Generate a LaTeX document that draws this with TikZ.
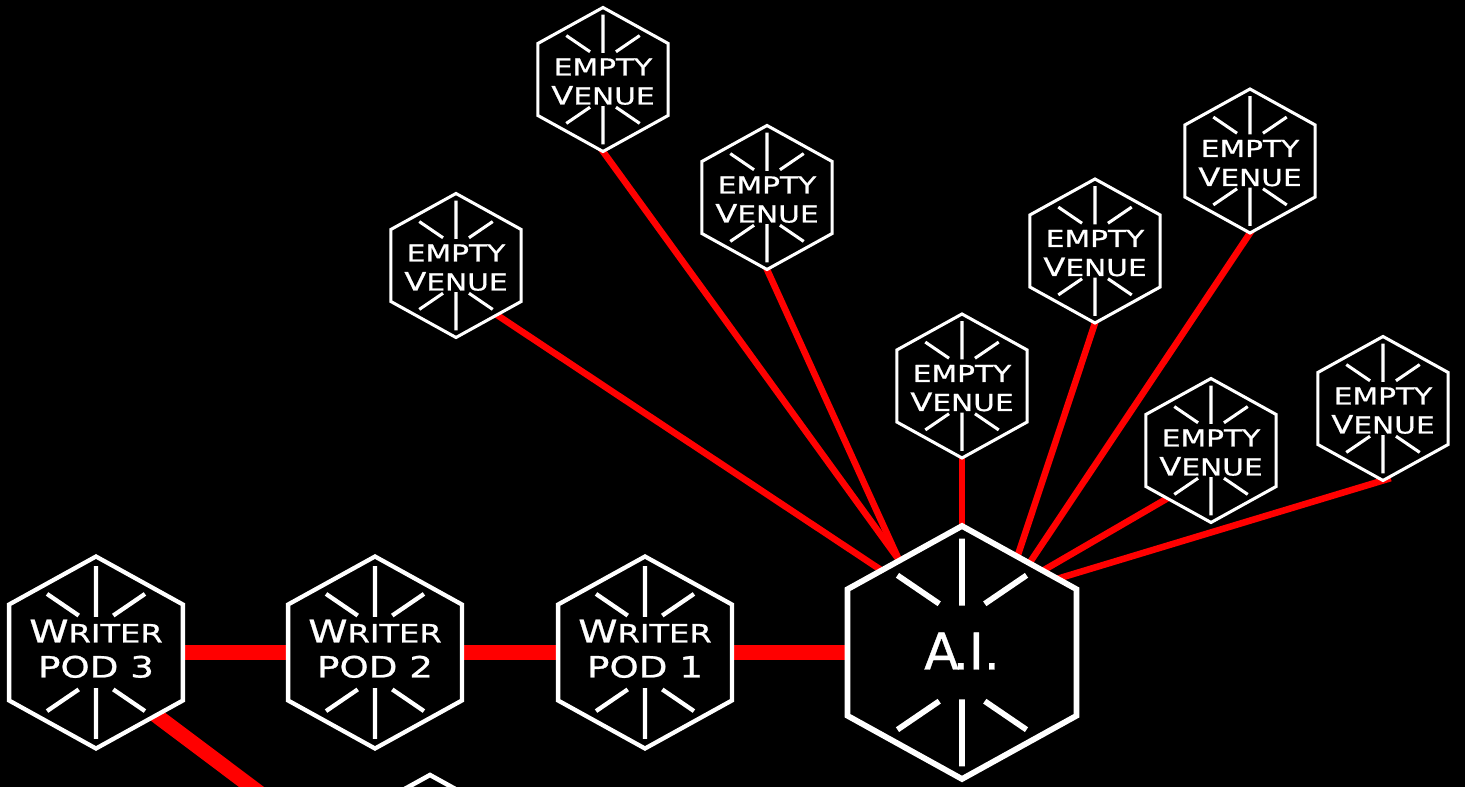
\documentclass[tikz,border=0pt]{standalone}
\usepackage{fontspec}
\newfontfamily\hexfont[FakeStretch=1.27,FakeBold=0.8]{DejaVu Sans}
\newfontfamily\aifont[FakeBold=0.8]{DejaVu Sans}
\usetikzlibrary{calc}
\newcommand\venueV{{\fontsize{19pt}{21pt}\selectfont V}}
\newcommand\writerW{{\fontsize{23.5pt}{24pt}\selectfont W}}
\tikzset{
  pics/hexbox/.style n args={2}{code={
    \pgfmathsetmacro\hexw{0.905*#1}
    \draw[white,line width=#2,fill=black]
      (0,-#1) -- (\hexw,-0.5*#1) -- (\hexw,0.5*#1) -- (0,#1)
      -- (-\hexw,0.5*#1) -- (-\hexw,-0.5*#1) -- cycle;
    \draw[white,line width=#2]
      (0,-0.9*#1) -- (0,-0.37*#1)
      (-0.51*#1,-0.61*#1) -- (-0.18*#1,-0.385*#1)
      (0.51*#1,-0.61*#1) -- (0.18*#1,-0.385*#1)
      (0,0.9*#1) -- (0,0.37*#1)
      (-0.51*#1,0.61*#1) -- (-0.18*#1,0.385*#1)
      (0.51*#1,0.61*#1) -- (0.18*#1,0.385*#1);
  }},
  link/.style={draw=red,line width=4.9pt},
  podlink/.style={draw=red,line width=11.25pt},
  vtxt/.style={text=white,inner sep=0pt,anchor=base,font=\hexfont\fontsize{17.5pt}{21pt}\selectfont},
  wtxt/.style={text=white,inner sep=0pt,anchor=base,font=\hexfont\fontsize{19pt}{22pt}\selectfont},
  ptxt/.style={text=white,inner sep=0pt,anchor=base,font=\hexfont\fontsize{22pt}{24pt}\selectfont},
  aitxt/.style={text=white,inner sep=0pt,anchor=base,font=\aifont\fontsize{38pt}{40pt}\selectfont},
}
\begin{document}
\begin{tikzpicture}[x=0.75pt,y=-0.75pt]
\fill[black] (0,0) rectangle (1465,787);
\useasboundingbox (0,0) rectangle (1465,787);
\clip (0,0) rectangle (1465,787);

% hexagon centres
\coordinate (v1) at (603,79.5);
\coordinate (v2) at (767,197.5);
\coordinate (v3) at (456,265.5);
\coordinate (v4) at (962,386);
\coordinate (v5) at (1095,251);
\coordinate (v6) at (1250,161);
\coordinate (v7) at (1211,450.5);
\coordinate (v8) at (1383,408.5);
\coordinate (w3) at (96,652.5);
\coordinate (w2) at (375,652.5);
\coordinate (w1) at (645,652.5);
\coordinate (ai) at (962,652.5);
\coordinate (px) at (430,871);

% connector end points
\coordinate (v1s) at ($(v1)+(0,72)$);
\coordinate (v2s) at ($(v2)+(0,72)$);
\coordinate (v3o) at (497,315);
\coordinate (v4s) at ($(v4)+(0,72)$);
\coordinate (v5s) at ($(v5)+(0,72)$);
\coordinate (v6s) at ($(v6)+(0,72)$);
\coordinate (v7o) at (1168,498);
\coordinate (v8s) at ($(v8)+(0,72)$);
\coordinate (a1) at (899,560);
\coordinate (a3) at (881,570);
\coordinate (a4) at ($(ai)+(0,-126.5)$);
\coordinate (a5) at (1017.5,556.3);
\coordinate (a6) at (1029.4,563.2);
\coordinate (a7) at (1044,570);
\coordinate (a8) at (1057.4,578.8);
\coordinate (w3o) at (157,716);
\coordinate (pin) at (430,921);

% connectors
\foreach \s/\t in {v1s/a1, v2s/a1, v3o/a3, v4s/a4, v5s/a5, v6s/a6, v7o/a7, v8s/a8}
  \draw[link] ($(\s)!-6pt!(\t)$) -- ($(\t)!-8pt!(\s)$);
\draw[podlink] (w3) -- (w2);
\draw[podlink] (w2) -- (w1);
\draw[podlink] (w1) -- (ai);
\draw[podlink] ($(w3o)!-10pt!(pin)$) -- (pin);

% venues
\foreach \v in {v1,v2,v3,v4,v5,v6,v7,v8}{
  \pic at (\v) {hexbox={72}{2.3pt}};
  \node[vtxt] (\v-a) at ($(\v)+(0,-4)$) {EMPTY};
  \node[vtxt] (\v-b) at ($(\v)+(0,25)$) {\venueV ENUE};
}

% writer pods
\foreach \w/\n in {w3/3, w2/2, w1/1}{
  \pic at (\w) {hexbox={96}{3.2pt}};
  \node[wtxt] (\w-a) at ($(\w)+(0,-10)$) {\writerW RITER};
  \node[ptxt] (\w-b) at ($(\w)+(0,25)$) {POD \n};
}

% partial hexagon at the bottom (only its top shows)
\draw[white,line width=3.4pt,fill=black]
  ($(px)+(0,-96)$) -- ($(px)+(86.9,-48)$) -- ($(px)+(86.9,48)$) -- ($(px)+(0,96)$)
  -- ($(px)+(-86.9,48)$) -- ($(px)+(-86.9,-48)$) -- cycle;

% A.I. hub
\pic at (ai) {hexbox={126.5}{4.3pt}};
\node[aitxt] (ai-t) at ($(ai)+(0,17)$) {A\kern-0.12em.I.};
\end{tikzpicture}
\end{document}
